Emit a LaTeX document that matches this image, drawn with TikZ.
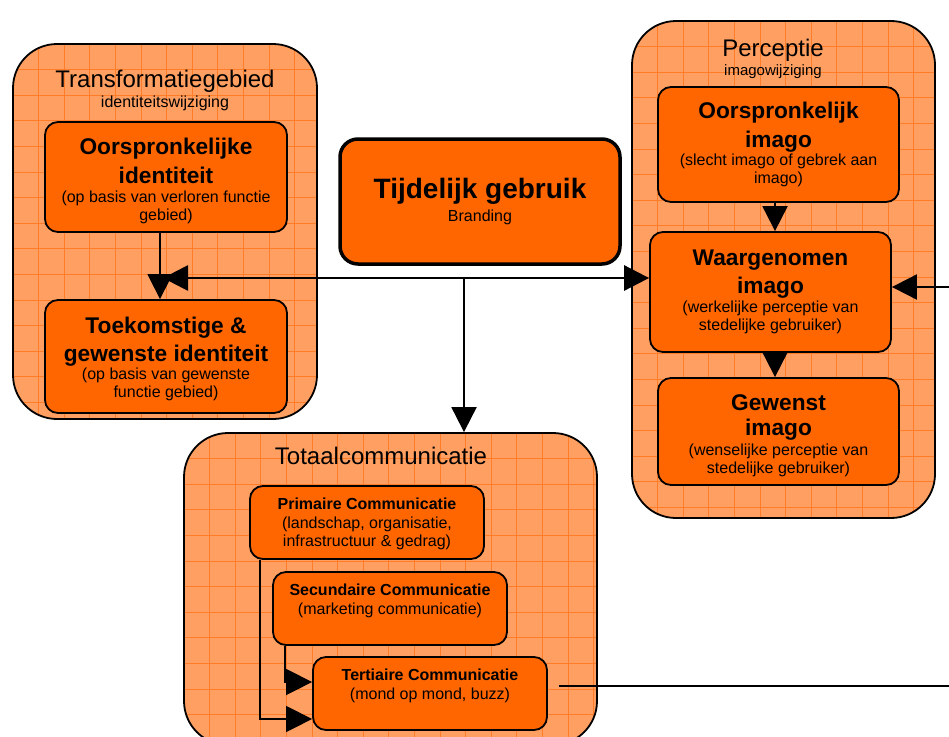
\documentclass[tikz,border=0pt]{standalone}
\usepackage{fontspec}
\setmainfont{Liberation Sans}
\usetikzlibrary{arrows.meta}

\definecolor{cardorange}{RGB}{255,102,0}
\definecolor{panelfill}{RGB}{255,160,98}
\definecolor{panelgrid}{RGB}{255,124,40}

\newcommand\cardhead{\bfseries\fontsize{22.7}{25}\selectfont}
\newcommand\commhead{\bfseries\fontsize{16}{19}\selectfont}
% invisible strut that sets the height of a first line
\newcommand\cardtop[1]{\rule{0pt}{#1}}

\begin{document}
\begin{tikzpicture}[x=1pt,y=-1pt,
  panel/.style={draw=black, line width=1.8pt, rounded corners=44pt, fill=panelfill,
    inner sep=0pt,
    path picture={
      \foreach \k in {1,...,20}{
        \draw[panelgrid, line width=0.8pt]
          ([xshift=\k*25.6pt]path picture bounding box.north west) --
          ([xshift=\k*25.6pt]path picture bounding box.south west);
        \draw[panelgrid, line width=0.8pt]
          ([yshift=-\k*25.6pt]path picture bounding box.north west) --
          ([yshift=-\k*25.6pt]path picture bounding box.north east);
      }}},
  card/.style={draw=black, line width=1.8pt, rounded corners=13pt, fill=cardorange,
    align=center, inner sep=0pt, font=\fontsize{16}{18}\selectfont},
  paneltitle/.style={font=\fontsize{24}{26}\selectfont, inner sep=0pt, anchor=base},
  panelsub/.style={font=\fontsize{16}{18}\selectfont, inner sep=0pt, anchor=base},
  flow/.style={line width=2pt, -{Triangle[length=25pt,width=25pt]}},
  thinflow/.style={line width=1.5pt, -{Triangle[length=26pt,width=26pt]}},
]
\useasboundingbox (0,0) rectangle (949,736);

% ---- panels ----
\node[panel, minimum width=304pt, minimum height=375pt] (trans) at (165,231.5) {};
\node[panel, minimum width=303pt, minimum height=497pt] (perc) at (783.5,269.5) {};
\node[panel, minimum width=413pt, minimum height=312pt] (total) at (390.5,589) {};

\node[paneltitle] (transT) at (165,87) {Transformatiegebied};
\node[panelsub] (transS) at (165,107) {identiteitswijziging};
\node[paneltitle] (percT) at (773,56) {Perceptie};
\node[panelsub, font=\fontsize{15}{18}\selectfont] (percS) at (773,75) {imagowijziging};
\node[paneltitle] (totalT) at (381,464) {Totaalcommunicatie};

% ---- identity cards ----
\node[card, minimum width=242pt, minimum height=110pt] (orgid) at (166,177)
  {\cardhead\cardtop{24pt}Oorspronkelijke\\[7pt]\cardhead identiteit\\[1pt]
   (op basis van verloren functie\\gebied)};
\node[card, minimum width=242pt, minimum height=113pt] (futid) at (166,356.5)
  {\cardhead\cardtop{22pt}Toekomstige \&\\[6pt]\cardhead gewenste identiteit\\[0pt]
   (op basis van gewenste\\functie gebied)};

% ---- temporary use ----
\node[card, line width=3.5pt, rounded corners=18pt, minimum width=280pt, minimum height=125pt]
  (temp) at (480,201.5)
  {\bfseries\fontsize{28}{30}\selectfont Tijdelijk gebruik\\[5pt]Branding};

% ---- image cards ----
\node[card, minimum width=241pt, minimum height=115pt] (orgim) at (778.5,144.5)
  {\cardhead\cardtop{16pt}Oorspronkelijk\\[7pt]\cardhead imago\\[0pt]
   (slecht imago of gebrek aan\\imago)};
\node[card, minimum width=241pt, minimum height=120pt] (perim) at (770.5,292)
  {\cardhead Waargenomen\\[6pt]\cardhead imago\\[1pt]
   (werkelijke perceptie van\\stedelijke gebruiker)};
\node[card, minimum width=241pt, minimum height=107pt] (wishim) at (778.5,431.5)
  {\cardhead\cardtop{24pt}Gewenst\\[7pt]\cardhead imago\\[2pt]
   (wenselijke perceptie van\\stedelijke gebruiker)};

% ---- communication cards ----
\node[card, minimum width=234pt, minimum height=73pt] (prim) at (367,522.5)
  {\commhead\cardtop{15pt}Primaire Communicatie\\[1pt](landschap, organisatie,\\infrastructuur \& gedrag)};
\node[card, minimum width=234pt, minimum height=73pt] (sec) at (390,608.5)
  {\commhead Secundaire Communicatie\\[1pt](marketing communicatie)\\\cardtop{6pt}};
\node[card, minimum width=234pt, minimum height=73pt] (ter) at (430,693.5)
  {\commhead Tertiaire Communicatie\\[1pt](mond op mond, buzz)\\\cardtop{6pt}};

% ---- connectors ----
\coordinate (leftTip) at (163,278);
\coordinate (junction) at (464,278);
\coordinate (rightIn) at (949,287);
\coordinate (rightOut) at (949,686);

\draw[line width=1.5pt, -{Triangle[length=25pt,width=25pt]}]
  ([xshift=-6pt]orgid.south) -- ([xshift=-6pt]futid.north);
\draw[line width=2.8pt, {Triangle[length=25pt,width=25pt]}-{Triangle[length=25pt,width=25pt]}]
  (leftTip) -- (perim.west |- leftTip);
\draw[flow] (junction) -- (total.north -| junction);
\draw[flow] ([xshift=-3.5pt]orgim.south) -- ([xshift=-3.5pt]orgim.south |- perim.north);
\draw[flow] ([xshift=4.5pt]perim.south) -- ([xshift=4.5pt]perim.south |- wishim.north);
\draw[flow] (rightIn) -- (perim.east |- rightIn);

\draw[thinflow] ([xshift=11pt]prim.south west) |- ([yshift=-25.5pt]ter.west);
\draw[thinflow] ([xshift=13pt]sec.south west) |- ([yshift=11.5pt]ter.west);
\draw[line width=2pt] ([xshift=11pt]ter.east |- rightOut) -- (rightOut);
\end{tikzpicture}
\end{document}
